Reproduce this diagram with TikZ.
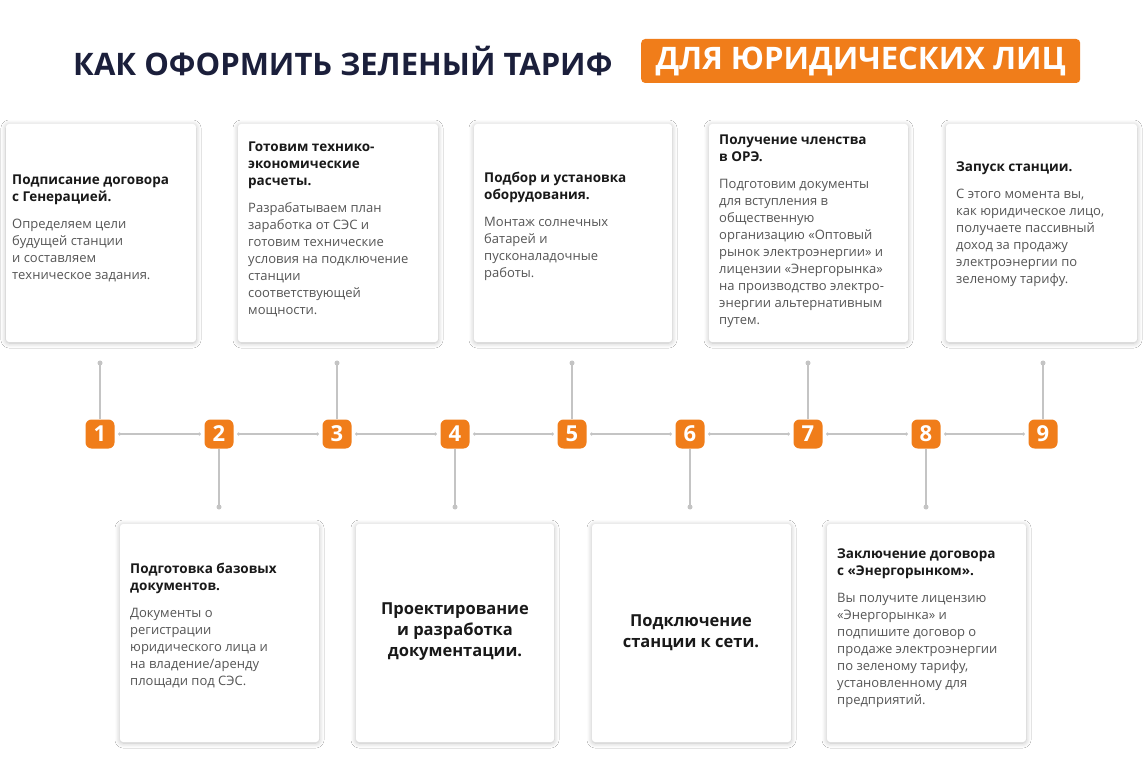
\documentclass[tikz,border=0pt]{standalone}
\usepackage{fontspec}
\setmainfont{Open Sans}
\usetikzlibrary{shadows.blur}
\definecolor{org}{HTML}{F07D1A}
\definecolor{navy}{HTML}{1B1F3B}
\definecolor{bodyc}{HTML}{555555}
\definecolor{lnc}{HTML}{C4C4C4}
\newcommand\hdx[1]{{\bfseries\fontsize{13.5}{17}\selectfont\color{black!90}#1}}
\tikzset{
 card/.style={draw=none,fill=white,rounded corners=3pt,blur shadow={shadow blur steps=8,shadow xshift=0pt,shadow yshift=-1pt,shadow opacity=25,shadow blur radius=5pt}},
 badge/.style={fill=org,rounded corners=6pt,minimum width=29pt,minimum height=29pt,inner sep=0pt,text=white,font=\bfseries\fontsize{22}{22}\selectfont},
 ctext/.style={anchor=north west,align=left,inner sep=0pt,font=\fontsize{13}{17}\selectfont,text=bodyc},
 conn/.style={draw=lnc,line width=1.3pt},
 dot/.style={circle,fill=lnc,inner sep=0pt,minimum size=5pt},
}
\begin{document}
\begin{tikzpicture}[x=1pt,y=-1pt]
\useasboundingbox[fill=white] (0,0) rectangle (1143,775);
\node[anchor=west,inner sep=0pt,text=navy,font=\bfseries\fontsize{31}{31}\selectfont] (t1) at (73,61) {КАК ОФОРМИТЬ ЗЕЛЕНЫЙ ТАРИФ};
\node[fill=org,rounded corners=4pt,anchor=west,minimum height=44pt,minimum width=439pt,text=white,font=\bfseries\fontsize{31}{31}\selectfont] (t2) at (641,61) {ДЛЯ ЮРИДИЧЕСКИХ ЛИЦ};
% cards top
\path[card] (6,124) rectangle (196,342);
\path[card] (238,124) rectangle (438,342);
\path[card] (474,124) rectangle (672,342);
\path[card] (709,124) rectangle (908,342);
\path[card] (946,124) rectangle (1137,342);
% cards bottom
\path[card] (120,524) rectangle (319,742);
\path[card] (356,524) rectangle (554,742);
\path[card] (592,524) rectangle (791,742);
\path[card] (827,524) rectangle (1026,742);
% texts
\node[ctext] (c1) at (12,175) {\hdx{Подписание договора}\\\hdx{с Генерацией.}\\[10pt]Определяем цели\\будущей станции\\и составляем\\техническое задания.};
\node[ctext] (c3) at (248,142) {\hdx{Готовим технико-}\\\hdx{экономические}\\\hdx{расчеты.}\\[10pt]Разрабатываем план\\заработка от СЭС и\\готовим технические\\условия на подключение\\станции\\соответствующей\\мощности.};
\node[ctext] (c5) at (484,172) {\hdx{Подбор и установка}\\\hdx{оборудования.}\\[10pt]Монтаж солнечных\\батарей и\\пусконаладочные\\работы.};
\node[ctext] (c7) at (719,135) {\hdx{Получение членства}\\\hdx{в ОРЭ.}\\[10pt]Подготовим документы\\для вступления в\\общественную\\организацию «Оптовый\\рынок электроэнергии» и\\лицензии «Энергорынка»\\на производство электро-\\энергии альтернативным\\путем.};
\node[ctext] (c9) at (956,162) {\hdx{Запуск станции.}\\[10pt]С этого момента вы,\\как юридическое лицо,\\получаете пассивный\\доход за продажу\\электроэнергии по\\зеленому тарифу.};
\node[ctext] (c2) at (130,563) {\hdx{Подготовка базовых}\\\hdx{документов.}\\[10pt]Документы о\\регистрации\\юридического лица и\\на владение/аренду\\площади под СЭС.};
\node[align=center,inner sep=0pt,font=\bfseries\fontsize{16.5}{21}\selectfont,text=black!90] (c4) at (455,632) {Проектирование\\и разработка\\документации.};
\node[align=center,inner sep=0pt,font=\bfseries\fontsize{16.5}{21}\selectfont,text=black!90] (c6) at (691,633) {Подключение\\станции к сети.};
\node[ctext] (c8) at (837,549) {\hdx{Заключение договора}\\\hdx{с «Энергорынком».}\\[10pt]Вы получите лицензию\\«Энергорынка» и\\подпишите договор о\\продаже электроэнергии\\по зеленому тарифу,\\установленному для\\предприятий.};
% badges
\foreach \i/\x in {1/100,2/219,3/337,4/455,5/572,6/690,7/808,8/926,9/1043}{
 \node[badge] (b\i) at (\x,434) {\i};
}
\foreach \a/\b in {1/2,2/3,3/4,4/5,5/6,6/7,7/8,8/9}{
 \draw[conn,shorten <=4pt,shorten >=4pt] (b\a) -- (b\b);
 \node[dot,minimum size=3.5pt] at ([xshift=5pt]b\a.east) {};
 \node[dot,minimum size=3.5pt] at ([xshift=-5pt]b\b.west) {};
}
\foreach \i/\x in {1/100,3/337,5/572,7/808,9/1043}{
 \coordinate (u\i) at (\x,363);
 \draw[conn] (b\i) -- (u\i);
 \node[dot] at (u\i) {};
}
\foreach \i/\x in {2/219,4/455,6/690,8/926}{
 \coordinate (d\i) at (\x,507);
 \draw[conn] (b\i) -- (d\i);
 \node[dot] at (d\i) {};
}
\end{tikzpicture}
\end{document}
